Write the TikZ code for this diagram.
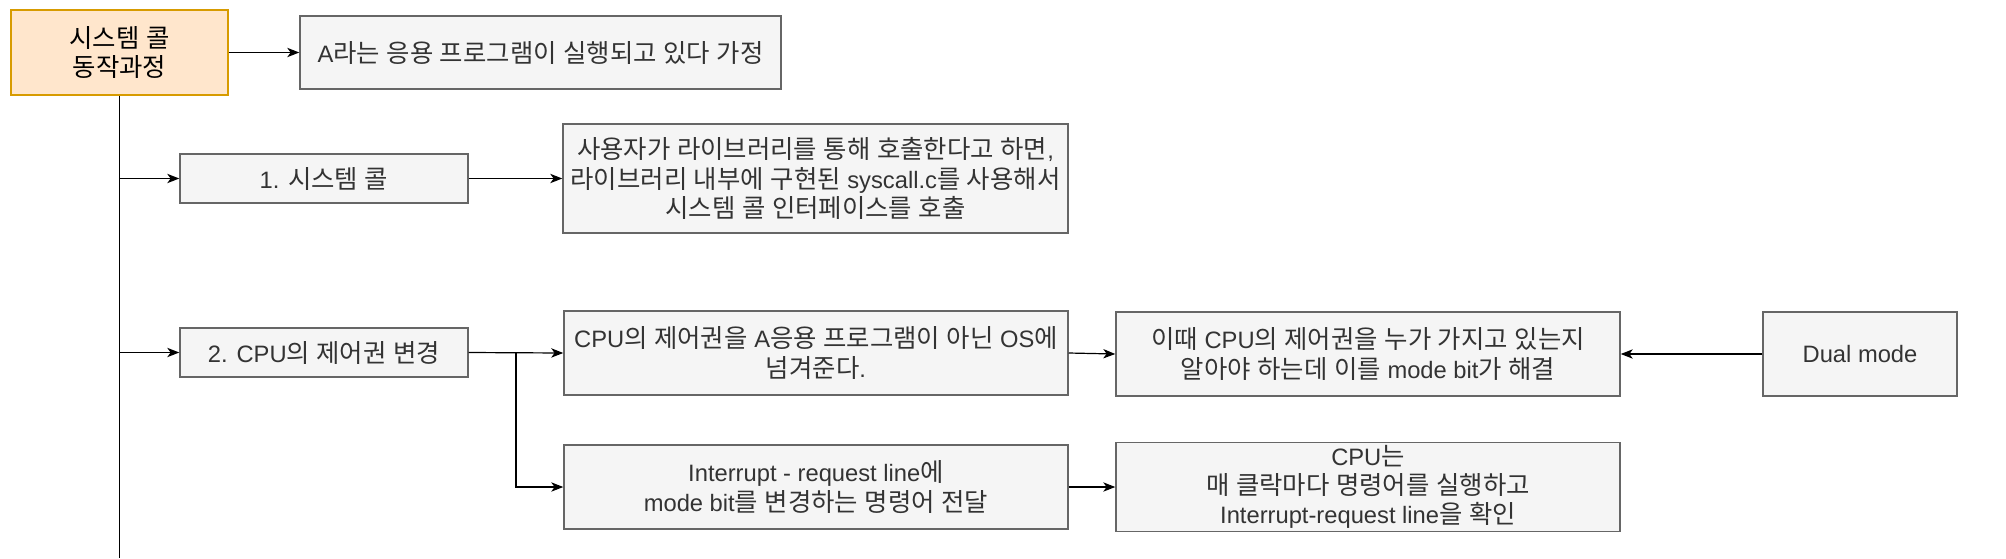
\documentclass[tikz,border=0pt]{standalone}
\usepackage{fontspec}
\setmainfont{Liberation Sans}
\newfontfamily\krfont{Noto Sans CJK KR}[Scale=1.07]
\XeTeXinterchartokenstate=1
\newXeTeXintercharclass\krcls
\count255="AC00
\loop\XeTeXcharclass\count255=\krcls\advance\count255 by 1\ifnum\count255<"D7A4\repeat
\XeTeXinterchartoks 0 \krcls = {\krfont}
\XeTeXinterchartoks 4095 \krcls = {\krfont}
\XeTeXinterchartoks \krcls 0 = {\rmfamily}
\XeTeXinterchartoks \krcls 4095 = {\rmfamily}
\usetikzlibrary{arrows.meta}
\definecolor{boxfill}{HTML}{F5F5F5}
\definecolor{boxline}{HTML}{666666}
\definecolor{boxtext}{HTML}{333333}
\definecolor{tfill}{HTML}{FFE6CC}
\definecolor{tline}{HTML}{D79B00}
\tikzset{
  gbox/.style={draw=boxline, fill=boxfill, text=boxtext, line width=1.1pt, align=center, inner sep=2pt,
    font=\fontsize{17.8}{22}\selectfont},
  tbox/.style={draw=tline, fill=tfill, text=black, line width=1.1pt, align=center, inner sep=2pt,
    font=\fontsize{17.8}{22}\selectfont},
  sz/.style 2 args={minimum width=#1*0.75pt, minimum height=#2*0.75pt},
  conn/.style={draw=black, line width=0.9pt, -{Stealth[length=9pt,width=7pt,inset=2.5pt]}},
  plain/.style={draw=black, line width=0.9pt}
}
\begin{document}
\begin{tikzpicture}[x=0.75pt,y=-0.75pt]
\useasboundingbox (0,0) rectangle (2006,558);
\node[tbox, sz={217}{85}] (title) at (119.5,52.5) {시스템 콜\\동작과정};
\node[gbox, sz={481}{73}] (a) at (540.5,52.5) {A라는 응용 프로그램이 실행되고 있다 가정};
\node[gbox, sz={288}{49}] (s1) at (324,178.5) {1. 시스템 콜};
\node[gbox, sz={505}{109}] (u) at (815.5,178.5) {사용자가 라이브러리를 통해 호출한다고 하면,\\라이브러리 내부에 구현된 syscall.c를 사용해서\\시스템 콜 인터페이스를 호출};
\node[gbox, sz={288}{49}] (s2) at (324,352.5) {2. CPU의 제어권 변경};
\node[gbox, sz={504}{84}] (c1) at (816,353) {CPU의 제어권을 A응용 프로그램이 아닌 OS에\\넘겨준다.};
\node[gbox, sz={504}{84}] (d) at (1368,354) {이때 CPU의 제어권을 누가 가지고 있는지\\알아야 하는데 이를 mode bit가 해결};
\node[gbox, sz={194}{84}] (dm) at (1860,354) {Dual mode};
\node[gbox, sz={504}{84}] (i) at (816,487) {Interrupt - request line에\\mode bit를 변경하는 명령어 전달};
\node[gbox, sz={504}{84}] (cpu) at (1368,487) {CPU는\\매 클락마다 명령어를 실행하고\\Interrupt-request line을 확인};
\coordinate (bottom) at (119.5,558);
\coordinate (branch) at (516,352.5);
\draw[conn] (title.east) -- (a.west);
\draw[plain] (title.south) -- (bottom);
\draw[conn] (title.south |- s1.west) -- (s1.west);
\draw[conn] (s1.east) -- (u.west);
\draw[conn] (title.south |- s2.west) -- (s2.west);
\draw[conn] (s2.east) -- (c1.west);
\draw[conn] (branch) |- (i.west);
\draw[conn] (c1.east) -- (d.west);
\draw[conn] (dm.west) -- (d.east);
\draw[conn] (i.east) -- (cpu.west);
\end{tikzpicture}
\end{document}
